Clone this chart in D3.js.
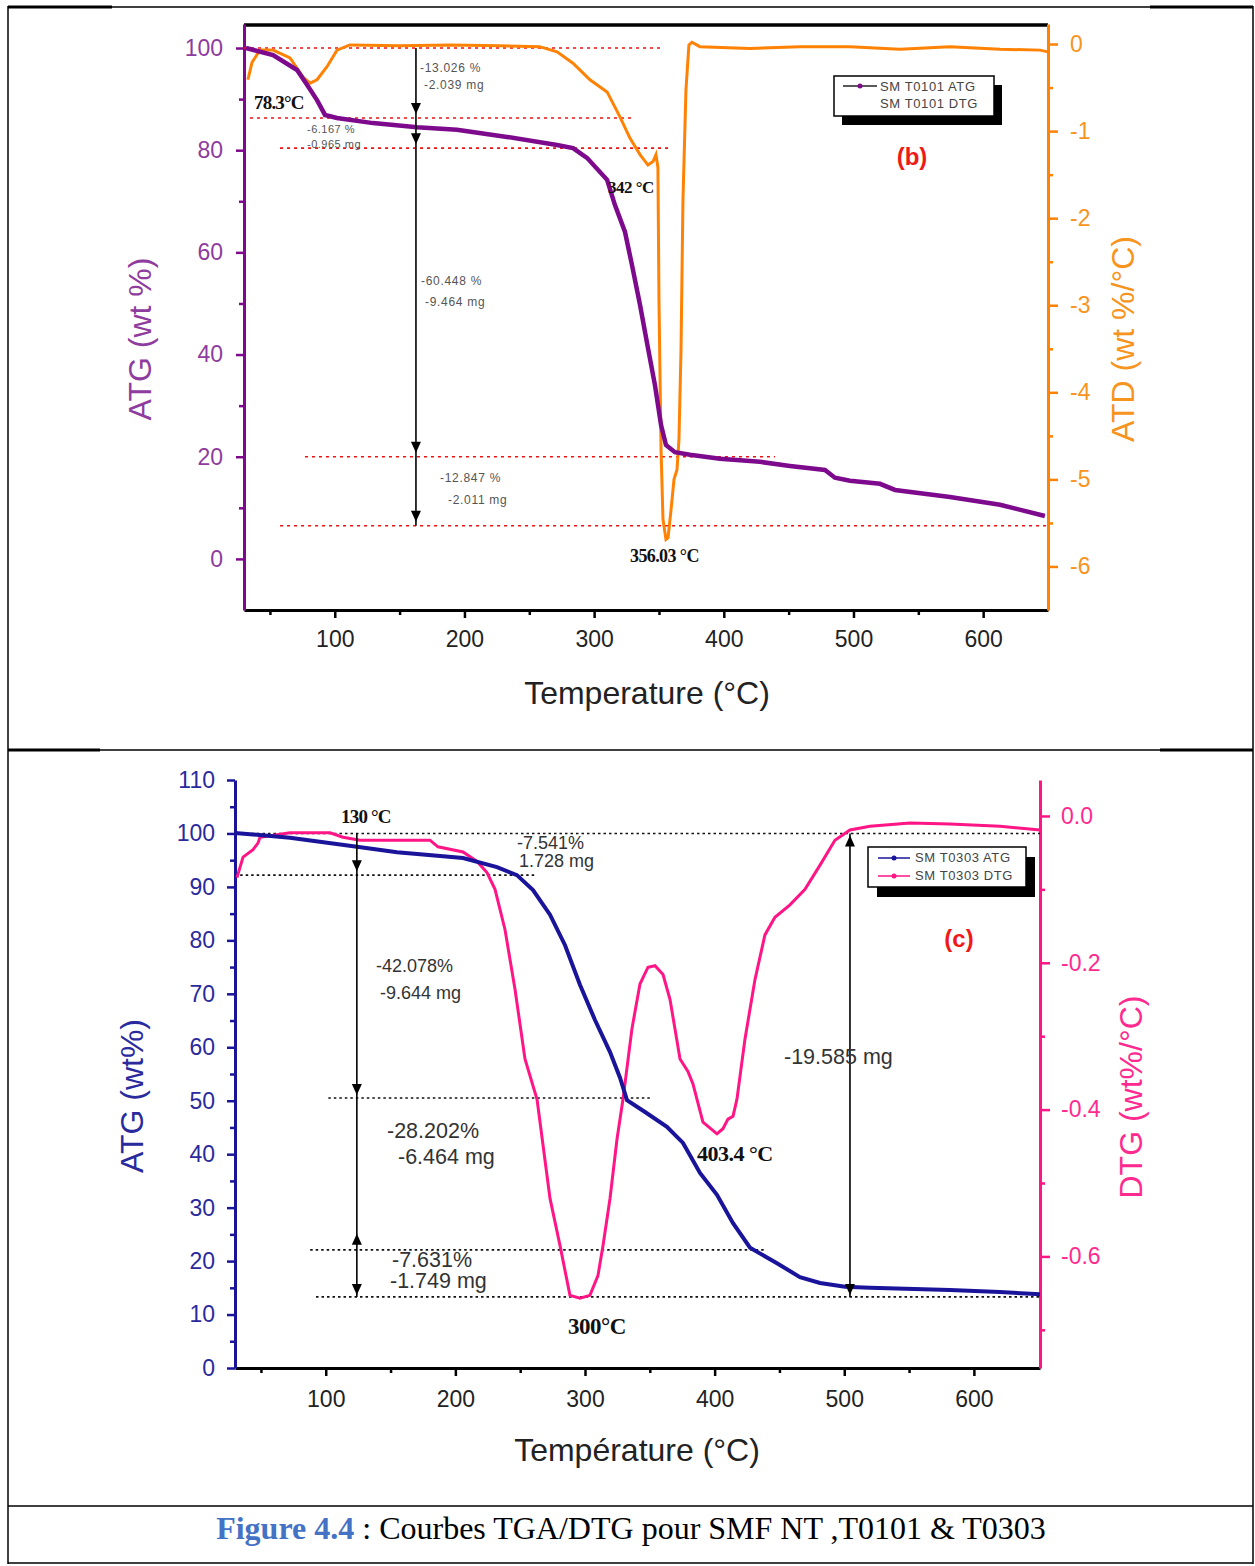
<!DOCTYPE html>
<meta charset="utf-8">
<script src="https://d3js.org/d3.v7.min.js"></script>
<style>
  body { margin: 0; background: #fff; }
</style>
<div id="my_dataviz"></div>
<script>

// ---------- panel (b) : SM T0101 ----------
var tempAtgB = [31.5, 52.4, 70.9, 78.6, 86.3, 92.5, 101.7, 129.5, 163.4, 194.2, 232.8, 271.4, 283.7, 294.5, 310, 316, 323.8, 329.2, 335.4, 341.5, 346.9, 351.6, 355.4, 362.3, 373.9, 397, 427.9, 451, 478, 485.7, 497.3, 520.4, 532, 574.4, 613, 647.6];
var atgB     = [100, 98.6, 95.7, 92.8, 89.8, 86.9, 86.3, 85.3, 84.5, 84, 82.6, 81, 80.4, 78.5, 74.2, 69.3, 64, 57.5, 49.7, 41.3, 34, 26.2, 22.3, 20.9, 20.4, 19.6, 19, 18.2, 17.4, 15.9, 15.3, 14.7, 13.5, 12.1, 10.6, 8.4];

var tempDtgB = [33, 36.2, 42.3, 52.4, 65.5, 75.5, 80.9, 86.3, 94, 101.7, 111.7, 150, 189, 227, 258, 271.4, 283.7, 296.8, 310, 320, 327.6, 335.4, 341.5, 345.4, 347.7, 349.2, 350, 351.6, 353.1, 355.4, 357, 359.3, 361.6, 363.9, 365.4, 367, 368.5, 370.8, 373.1, 375.4, 381.6, 420, 458.7, 497.3, 535.8, 574.4, 613, 643.8, 650];
var dtgB     = [-0.41, -0.21, -0.07, -0.07, -0.16, -0.38, -0.45, -0.41, -0.26, -0.07, -0.01, -0.02, -0.01, -0.02, -0.03, -0.09, -0.22, -0.41, -0.55, -0.84, -1.08, -1.27, -1.39, -1.35, -1.27, -1.42, -2.94, -4.66, -5.46, -5.69, -5.67, -5.35, -5.0, -4.89, -4.55, -3.51, -1.79, -0.53, -0.01, 0.02, -0.03, -0.05, -0.03, -0.03, -0.06, -0.03, -0.06, -0.07, -0.09];

// step levels (wt %) and their extent in temperature
var levelsB    = [100, 86.3, 80.4, 20, 6.5];
var levelFromB = [30, 34.6, 57.8, 77, 57.8];
var levelToB   = [353, 331.5, 357, 439.5, 650];

// ---------- panel (c) : SM T0303 ----------
var tempAtgC = [30, 72.4, 124.1, 155, 205.9, 232.1, 247.5, 259.9, 273, 284.6, 296.1, 307.7, 319.3, 327, 332.4, 346.3, 363.2, 375.6, 388.7, 401.8, 414.2, 427.3, 448.1, 465.8, 481.3, 500.6, 519.8, 581.5, 620.1, 651];
var atgC     = [100.1, 99.2, 97.5, 96.5, 95.4, 93.7, 92.2, 89.4, 84.8, 79.1, 71.7, 65.1, 59.1, 54.3, 50.1, 47.9, 45.1, 42.1, 36.5, 32.4, 27.1, 22.5, 19.6, 17, 15.9, 15.2, 15, 14.6, 14.2, 13.8];

var tempDtgC = [31.5, 36.2, 43.9, 47.7, 49.3, 72.4, 103.3, 113.3, 126.4, 180.4, 186.6, 205.9, 216.7, 224.4, 230.6, 238.3, 246, 253.7, 263, 273, 280.7, 288.4, 296.1, 303.8, 310, 313.9, 319.3, 324.7, 329.3, 336.2, 342.4, 348.6, 354, 360.2, 365.6, 373.3, 379.4, 383.3, 386.4, 391, 401.8, 406.4, 410.3, 414.2, 417.2, 423.4, 431.1, 438.8, 446.5, 458.1, 469.7, 481.3, 492.8, 504.4, 519.8, 550.7, 581.5, 620.1, 651];
var dtgC     = [-0.084, -0.056, -0.046, -0.037, -0.029, -0.023, -0.023, -0.029, -0.033, -0.033, -0.042, -0.049, -0.062, -0.077, -0.1, -0.155, -0.236, -0.331, -0.386, -0.521, -0.585, -0.653, -0.657, -0.653, -0.626, -0.585, -0.521, -0.44, -0.386, -0.29, -0.229, -0.206, -0.204, -0.216, -0.25, -0.331, -0.348, -0.365, -0.386, -0.417, -0.433, -0.426, -0.413, -0.409, -0.386, -0.304, -0.223, -0.162, -0.138, -0.121, -0.1, -0.067, -0.033, -0.019, -0.014, -0.0095, -0.011, -0.014, -0.019];

var levelsC    = [100, 92.2, 50.5, 22.1, 13.3];
var levelFromC = [30, 34, 102, 88, 92.5];
var levelToC   = [651, 261, 350, 439, 651];

// tick values
var xTicks      = [100, 200, 300, 400, 500, 600];
var xMinor      = [50, 150, 250, 350, 450, 550];
var yTicksB     = [0, 20, 40, 60, 80, 100];
var yMinorB     = [10, 30, 50, 70, 90];
var y2TicksB    = [0, -1, -2, -3, -4, -5, -6];
var y2MinorB    = [-0.5, -1.5, -2.5, -3.5, -4.5, -5.5];
var yTicksC     = [0, 10, 20, 30, 40, 50, 60, 70, 80, 90, 100, 110];
var yMinorC     = [5, 15, 25, 35, 45, 55, 65, 75, 85, 95, 105];
var y2TicksC    = [0, -0.2, -0.4, -0.6];
var y2MinorC    = [-0.1, -0.3, -0.5, -0.7];

var SANS = "Liberation Sans, Arial, sans-serif";
var SERIF = "Liberation Serif, Times New Roman, serif";

var svg = d3.select("#my_dataviz")
  .append("svg")
    .attr("width", 1255)
    .attr("height", 1566);

// table frame
function hline(x1, x2, y, w) {
  svg.append("line").attr("x1", x1).attr("x2", x2).attr("y1", y).attr("y2", y)
    .attr("stroke", "#000").attr("stroke-width", w);
}
hline(8, 1253, 7, 1.5);
hline(8, 112, 7, 3);
hline(1150, 1253, 7, 3);
hline(8, 1253, 750, 1.5);
hline(8, 100, 750, 3);
hline(1160, 1253, 750, 3);
hline(8, 1253, 1506, 1.5);
hline(8, 1253, 1563, 1.5);
svg.append("line").attr("x1", 8).attr("x2", 8).attr("y1", 6).attr("y2", 1564).attr("stroke", "#000").attr("stroke-width", 1.5);
svg.append("line").attr("x1", 1253).attr("x2", 1253).attr("y1", 6).attr("y2", 1564).attr("stroke", "#000").attr("stroke-width", 1.5);

// axis helper
function drawAxis(axis, tx, ty, color, labelColor, fs) {
  var g = svg.append("g").attr("transform", "translate(" + tx + "," + ty + ")").call(axis);
  g.attr("font-family", SANS).attr("font-size", fs);
  g.select(".domain").attr("stroke", color).attr("stroke-width", 3);
  g.selectAll(".tick line").attr("stroke", color).attr("stroke-width", 2.5);
  g.selectAll(".tick text").attr("fill", labelColor);
  return g;
}
function minorAxis(axis, tx, ty, color) {
  var g = svg.append("g").attr("transform", "translate(" + tx + "," + ty + ")").call(axis);
  g.select(".domain").remove();
  g.selectAll(".tick line").attr("stroke", color).attr("stroke-width", 2.5);
  return g;
}
function note(x, y, t, fs, fill, fam, bold, ls) {
  svg.append("text").attr("x", x).attr("y", y).text(t)
    .attr("font-family", fam || SANS).attr("font-size", fs).attr("fill", fill)
    .attr("font-weight", bold ? "bold" : "normal")
    .attr("letter-spacing", ls || 0);
}
function arrowHead(x, y, dir) {
  // dir 1 = pointing down, tip at y
  var h = 11, w = 5;
  svg.append("path")
    .attr("d", "M" + x + "," + y + "L" + (x - w) + "," + (y - dir * h) + "L" + (x + w) + "," + (y - dir * h) + "Z")
    .attr("fill", "#000");
}

// ================= panel (b) =================
var xb  = d3.scaleLinear().domain([30, 650]).range([244, 1048]);
var yb  = d3.scaleLinear().domain([-10, 104.7]).range([610, 24]);
var yb2 = d3.scaleLinear().domain([-6.5, 0.23]).range([610, 24]);

var purple = "#7D0A8C", purpleTxt = "#8E3C9E", orange = "#FF8205", orangeTxt = "#F7941D";

// top frame line
svg.append("line").attr("x1", 244).attr("x2", 1048).attr("y1", 25).attr("y2", 25)
  .attr("stroke", "#000").attr("stroke-width", 3.5);

// x axis
drawAxis(d3.axisBottom(xb).tickValues(xTicks).tickSize(8).tickSizeOuter(0).tickPadding(13), 0, 610, "#000", "#222", 23);
minorAxis(d3.axisBottom(xb).tickValues(xMinor).tickSize(5).tickFormat(""), 0, 610, "#000");

// left axis
drawAxis(d3.axisLeft(yb).tickValues(yTicksB).tickSize(8).tickSizeOuter(0).tickPadding(13), 244, 0, purple, purpleTxt, 23);
minorAxis(d3.axisLeft(yb).tickValues(yMinorB).tickSize(5).tickFormat(""), 244, 0, purple);

// right axis
drawAxis(d3.axisRight(yb2).tickValues(y2TicksB).tickSize(10).tickSizeOuter(0).tickPadding(12).tickFormat(function(d) { return String(d); }), 1048, 0, orange, orangeTxt, 23);
minorAxis(d3.axisRight(yb2).tickValues(y2MinorB).tickSize(5).tickFormat(""), 1048, 0, orange);

// axis titles
svg.append("text").attr("x", 647).attr("y", 704).attr("text-anchor", "middle")
  .attr("font-family", SANS).attr("font-size", 32).attr("fill", "#222").text("Temperature (°C)");
svg.append("text").attr("transform", "translate(151,339)rotate(-90)").attr("text-anchor", "middle")
  .attr("font-family", SANS).attr("font-size", 32).attr("fill", purpleTxt).text("ATG (wt %)");
svg.append("text").attr("transform", "translate(1134,339)rotate(-90)").attr("text-anchor", "middle")
  .attr("font-family", SANS).attr("font-size", 32).attr("fill", orangeTxt).text("ATD (wt %/°C)");

// red dotted step levels
svg.selectAll("levB").data(levelsB).enter().append("line")
  .attr("x1", function(d, i) { return xb(levelFromB[i]); })
  .attr("x2", function(d, i) { return xb(levelToB[i]); })
  .attr("y1", function(d) { return yb(d); })
  .attr("y2", function(d) { return yb(d); })
  .attr("stroke", "#F01010").attr("stroke-width", 1.6).attr("stroke-dasharray", "3,4");

// curves
svg.append("path").datum(d3.zip(tempDtgB, dtgB))
  .attr("fill", "none").attr("stroke", orange).attr("stroke-width", 3)
  .attr("d", d3.line().x(function(d) { return xb(d[0]); }).y(function(d) { return yb2(d[1]); }));
svg.append("path").datum(d3.zip(tempAtgB, atgB))
  .attr("fill", "none").attr("stroke", purple).attr("stroke-width", 4.5)
  .attr("d", d3.line().x(function(d) { return xb(d[0]); }).y(function(d) { return yb(d[1]); }));

// vertical arrow
var arrowTB = 162.6;
svg.append("line").attr("x1", xb(arrowTB)).attr("x2", xb(arrowTB))
  .attr("y1", yb(levelsB[0])).attr("y2", yb(levelsB[4]))
  .attr("stroke", "#000").attr("stroke-width", 1.6);
[1, 2, 3, 4].forEach(function(i) { arrowHead(xb(arrowTB), yb(levelsB[i]) - 4, 1); });

// annotations
note(420, 72, "-13.026 %", 12, "#555", SANS, false, 0.7);
note(424, 89, "-2.039 mg", 12, "#555", SANS, false, 0.7);
note(307, 133, "-6.167 %", 11, "#555", SANS, false, 0.5);
note(307, 148, "-0.965 mg", 11, "#555", SANS, false, 0.5);
note(421, 285, "-60.448 %", 12, "#555", SANS, false, 0.7);
note(425, 306, "-9.464 mg", 12, "#555", SANS, false, 0.7);
note(440, 482, "-12.847 %", 12, "#555", SANS, false, 0.7);
note(448, 504, "-2.011 mg", 12, "#555", SANS, false, 0.7);
note(254, 109, "78.3°C", 19, "#111", SERIF, true, -0.8);
note(608, 193, "342 °C", 17, "#111", SERIF, true, -0.5);
note(630, 562, "356.03 °C", 18, "#111", SERIF, true, -0.6);
svg.append("text").attr("x", 912).attr("y", 165).attr("text-anchor", "middle")
  .attr("font-family", SANS).attr("font-weight", "bold").attr("font-size", 24).attr("fill", "#F01818").text("(b)");

// legend (b)
svg.append("rect").attr("x", 842).attr("y", 85).attr("width", 160).attr("height", 40).attr("fill", "#000");
svg.append("rect").attr("x", 834).attr("y", 76).attr("width", 160).attr("height", 40).attr("fill", "#fff").attr("stroke", "#000").attr("stroke-width", 1.5);
svg.append("line").attr("x1", 843).attr("x2", 877).attr("y1", 86).attr("y2", 86).attr("stroke", "#222").attr("stroke-width", 1.5);
svg.append("circle").attr("cx", 860).attr("cy", 86).attr("r", 2.5).attr("fill", purple);
note(880, 91, "SM T0101 ATG", 13, "#444", SANS, false, 0.6);
note(880, 108, "SM T0101 DTG", 13, "#444", SANS, false, 0.6);

// ================= panel (c) =================
var xc  = d3.scaleLinear().domain([30, 651]).range([235, 1040]);
var yc  = d3.scaleLinear().domain([0, 110]).range([1368, 780]);
var yc2 = d3.scaleLinear().domain([-0.752, 0.049]).range([1368, 780]);

var blue = "#1A149A", blueTxt = "#2A2A9C", pink = "#FF1585", pinkTxt = "#FF2A90";

drawAxis(d3.axisBottom(xc).tickValues(xTicks).tickSize(8).tickSizeOuter(0).tickPadding(15), 0, 1368, "#000", "#222", 23);
minorAxis(d3.axisBottom(xc).tickValues(xMinor).tickSize(5).tickFormat(""), 0, 1368, "#000");

drawAxis(d3.axisLeft(yc).tickValues(yTicksC).tickSize(8).tickSizeOuter(0).tickPadding(12), 235, 0, blue, blueTxt, 23);
minorAxis(d3.axisLeft(yc).tickValues(yMinorC).tickSize(5).tickFormat(""), 235, 0, blue);

drawAxis(d3.axisRight(yc2).tickValues(y2TicksC).tickSize(10).tickSizeOuter(0).tickPadding(11).tickFormat(function(d) { return d.toFixed(1); }), 1040, 0, pink, pinkTxt, 23);
minorAxis(d3.axisRight(yc2).tickValues(y2MinorC).tickSize(5).tickFormat(""), 1040, 0, pink);

svg.append("text").attr("x", 637).attr("y", 1461).attr("text-anchor", "middle")
  .attr("font-family", SANS).attr("font-size", 32).attr("fill", "#222").text("Température (°C)");
svg.append("text").attr("transform", "translate(143,1096)rotate(-90)").attr("text-anchor", "middle")
  .attr("font-family", SANS).attr("font-size", 32).attr("fill", blueTxt).text("ATG (wt%)");
svg.append("text").attr("transform", "translate(1142,1097)rotate(-90)").attr("text-anchor", "middle")
  .attr("font-family", SANS).attr("font-size", 32).attr("fill", pinkTxt).text("DTG (wt%/°C)");

// black dotted step levels
svg.selectAll("levC").data(levelsC).enter().append("line")
  .attr("x1", function(d, i) { return xc(levelFromC[i]); })
  .attr("x2", function(d, i) { return xc(levelToC[i]); })
  .attr("y1", function(d) { return yc(d); })
  .attr("y2", function(d) { return yc(d); })
  .attr("stroke", "#111").attr("stroke-width", 1.6).attr("stroke-dasharray", "2.5,3");

svg.append("path").datum(d3.zip(tempDtgC, dtgC))
  .attr("fill", "none").attr("stroke", pink).attr("stroke-width", 3)
  .attr("d", d3.line().x(function(d) { return xc(d[0]); }).y(function(d) { return yc2(d[1]); }));
svg.append("path").datum(d3.zip(tempAtgC, atgC))
  .attr("fill", "none").attr("stroke", blue).attr("stroke-width", 4)
  .attr("d", d3.line().x(function(d) { return xc(d[0]); }).y(function(d) { return yc(d[1]); }));

// vertical arrows
var arrowTC = [124, 504.4];
arrowTC.forEach(function(t) {
  svg.append("line").attr("x1", xc(t)).attr("x2", xc(t))
    .attr("y1", yc(levelsC[0])).attr("y2", yc(levelsC[4]))
    .attr("stroke", "#000").attr("stroke-width", 1.6);
});
arrowHead(xc(arrowTC[0]), yc(levelsC[1]) - 4, 1);
arrowHead(xc(arrowTC[0]), yc(levelsC[2]) - 3, 1);
arrowHead(xc(arrowTC[0]), yc(levelsC[3]) - 16, -1);
arrowHead(xc(arrowTC[0]), yc(levelsC[4]) - 2, 1);
arrowHead(xc(arrowTC[1]), yc(levelsC[0]) + 2, -1);
arrowHead(xc(arrowTC[1]), yc(levelsC[4]) - 2, 1);

note(341, 823, "130 °C", 19, "#111", SERIF, true, -0.8);
note(517, 849, "-7.541%", 18, "#333");
note(519, 867, "1.728 mg", 18, "#333");
note(376, 972, "-42.078%", 18, "#333");
note(380, 999, "-9.644 mg", 18, "#333");
note(784, 1064, "-19.585 mg", 21.5, "#333");
note(387, 1138, "-28.202%", 21.5, "#333");
note(398, 1164, "-6.464 mg", 21.5, "#333");
note(392, 1267, "-7.631%", 21.5, "#333");
note(390, 1288, "-1.749 mg", 21.5, "#333");
note(697, 1161, "403.4 °C", 22, "#111", SERIF, true, -0.5);
note(568, 1334, "300°C", 23, "#111", SERIF, true, -0.5);
svg.append("text").attr("x", 959).attr("y", 947).attr("text-anchor", "middle")
  .attr("font-family", SANS).attr("font-weight", "bold").attr("font-size", 24).attr("fill", "#F01818").text("(c)");

// legend (c)
svg.append("rect").attr("x", 877).attr("y", 857).attr("width", 158).attr("height", 40).attr("fill", "#000");
svg.append("rect").attr("x", 868).attr("y", 847).attr("width", 158).attr("height", 40).attr("fill", "#fff").attr("stroke", "#000").attr("stroke-width", 1.5);
svg.append("line").attr("x1", 878).attr("x2", 910).attr("y1", 858).attr("y2", 858).attr("stroke", blue).attr("stroke-width", 1.5);
svg.append("circle").attr("cx", 894).attr("cy", 858).attr("r", 2.5).attr("fill", blue);
svg.append("line").attr("x1", 878).attr("x2", 910).attr("y1", 876).attr("y2", 876).attr("stroke", pink).attr("stroke-width", 1.5);
svg.append("circle").attr("cx", 894).attr("cy", 876).attr("r", 2.5).attr("fill", pink);
note(915, 862, "SM T0303 ATG", 13, "#444", SANS, false, 0.6);
note(915, 880, "SM T0303 DTG", 13, "#444", SANS, false, 0.6);

// caption
var cap = svg.append("text").attr("x", 631).attr("y", 1539).attr("text-anchor", "middle")
  .attr("font-family", SERIF).attr("font-size", 32);
cap.append("tspan").attr("fill", "#4472C4").attr("font-weight", "bold").text("Figure 4.4");
cap.append("tspan").attr("fill", "#000").text(" : Courbes TGA/DTG pour SMF NT ,T0101 & T0303");

</script>
